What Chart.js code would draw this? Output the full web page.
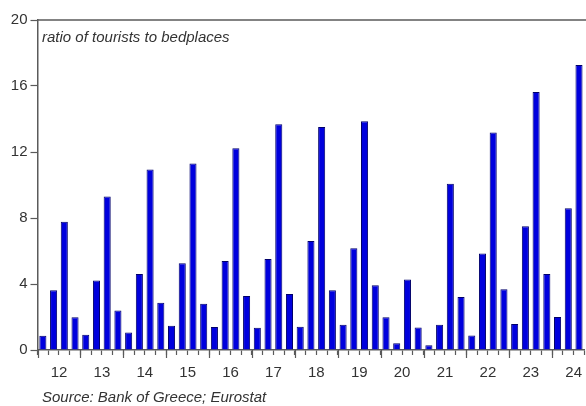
<!DOCTYPE html>
<html>
<head>
<meta charset="utf-8">
<script src="https://cdn.jsdelivr.net/npm/chart.js@4"></script>
<style>
  html, body { margin: 0; padding: 0; background: #fff; overflow: hidden; }
  #wrap { position: relative; width: 586px; height: 406px; overflow: hidden; }
  canvas { position: absolute; left: 0; top: 0; }
  .note { position: absolute; font-family: "Liberation Sans", Arial, sans-serif; font-style: italic; color: #333; white-space: nowrap; }
  #title { left: 42px; top: 28px; font-size: 15px; }
  #source { left: 42px; top: 388px; font-size: 15px; }
</style>
</head>
<body>
<div id="wrap">
  <canvas id="canvas" width="588" height="406"></canvas>
  <div id="title" class="note">ratio of tourists to bedplaces</div>
  <div id="source" class="note">Source: Bank of Greece; Eurostat</div>
</div>
<script>
// tick labels (one per year)
var yearLabels = ["12", "13", "14", "15", "16", "17", "18", "19", "20", "21", "22", "23", "24"];

// quarters 2012 Q1 .. 2024 Q3
var quarters = [];
yearLabels.forEach(function (y) {
  ["Q1", "Q2", "Q3", "Q4"].forEach(function (q) {
    if (quarters.length < 51) quarters.push("20" + y + " " + q);
  });
});

// ratio of tourists to bedplaces
var ratio = [
  0.86, 3.62, 7.78, 1.98,   // 2012
  0.92, 4.21, 9.30, 2.40,   // 2013
  1.06, 4.61, 10.94, 2.87,  // 2014
  1.47, 5.26, 11.31, 2.81,  // 2015
  1.40, 5.39, 12.22, 3.28,  // 2016
  1.35, 5.51, 13.68, 3.40,  // 2017
  1.41, 6.60, 13.52, 3.62,  // 2018
  1.53, 6.16, 13.87, 3.93,  // 2019
  1.99, 0.41, 4.27, 1.37,   // 2020
  0.29, 1.53, 10.07, 3.21,  // 2021
  0.88, 5.85, 13.18, 3.68,  // 2022
  1.57, 7.50, 15.63, 4.61,  // 2023
  2.00, 8.59, 17.27         // 2024
];

var yTicks = [0, 4, 8, 12, 16, 20];

var axisColor = "#5a5a5a";
var textColor = "#333333";
var fontFamily = '"Liberation Sans", Arial, sans-serif';

// top frame line and longer year ticks
var framePlugin = {
  id: "frame",
  afterDraw: function (chart) {
    var ctx = chart.ctx;
    var area = chart.chartArea;
    var xs = chart.scales.x;
    ctx.save();
    ctx.strokeStyle = axisColor;
    ctx.lineWidth = 1.5;
    ctx.beginPath();
    ctx.moveTo(area.left, area.top);
    ctx.lineTo(area.right + 2, area.top);
    ctx.stroke();

    var half = (xs.getPixelForValue(1) - xs.getPixelForValue(0)) / 2;
    ctx.lineWidth = 1.2;
    ctx.beginPath();
    for (var i = 0; i < quarters.length; i += 4) {
      var px = Math.round(xs.getPixelForValue(i) - half) + 0.5;
      ctx.moveTo(px, area.bottom);
      ctx.lineTo(px, area.bottom + 8);
    }
    ctx.stroke();
    ctx.restore();
  }
};

const ctx = document.getElementById("canvas").getContext("2d");

const myChart = new Chart(ctx, {
  type: "bar",
  data: {
    labels: quarters,
    datasets: [
      {
        label: "ratio of tourists to bedplaces",
        data: ratio,
        backgroundColor: "#0000dd",
        borderColor: "#00006a",
        borderWidth: 1,
        borderSkipped: "bottom",
        categoryPercentage: 1,
        barPercentage: 0.66,
      },
    ],
  },
  options: {
    responsive: false,
    animation: false,
    layout: { padding: { top: 20, left: 0, right: 0, bottom: 0 } },
    plugins: {
      legend: { display: false },
      tooltip: { enabled: false },
    },
    scales: {
      x: {
        offset: true,
        afterFit: function (s) { s.height = 56; },
        border: { display: true, color: axisColor, width: 1.5 },
        grid: {
          offset: true,
          drawOnChartArea: false,
          tickLength: 5,
          tickColor: axisColor,
          tickWidth: 1.2,
        },
        ticks: {
          autoSkip: false,
          maxRotation: 0,
          minRotation: 0,
          padding: 9,
          labelOffset: 5.4,
          color: textColor,
          font: { family: fontFamily, size: 15 },
          callback: function (value, index) {
            return index % 4 === 1 ? yearLabels[Math.floor(index / 4)] : "";
          },
        },
      },
      y: {
        min: 0,
        max: 20,
        afterFit: function (s) { s.width = 37.5; },
        afterBuildTicks: function (s) {
          s.ticks = yTicks.map(function (v) { return { value: v }; });
        },
        border: { display: true, color: axisColor, width: 1.5 },
        grid: {
          drawOnChartArea: false,
          tickLength: 7,
          tickColor: axisColor,
          tickWidth: 1.2,
        },
        ticks: {
          padding: 3,
          color: textColor,
          font: { family: fontFamily, size: 15 },
        },
      },
    },
  },
  plugins: [framePlugin],
});
</script>
</body>
</html>
